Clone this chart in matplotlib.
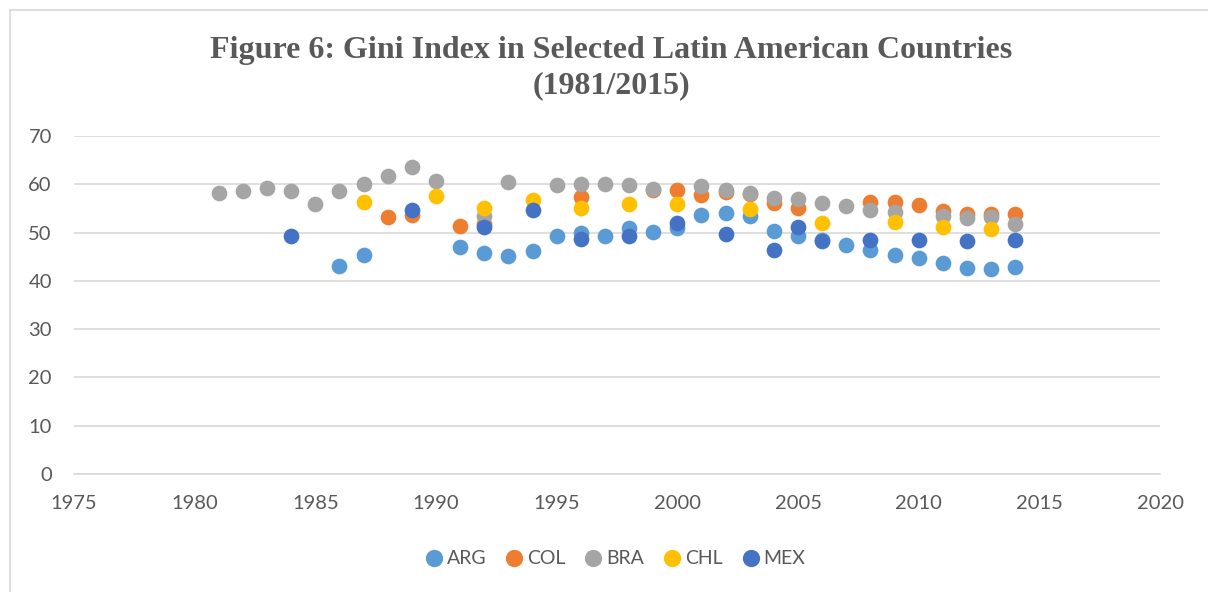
import matplotlib
matplotlib.use("Agg")
import matplotlib.pyplot as plt
from matplotlib.lines import Line2D

# ---- data ----
arg_years = [1986, 1987, 1991, 1992, 1993, 1994, 1995, 1996, 1997, 1998, 1999, 2000,
             2001, 2002, 2003, 2004, 2005, 2006, 2007, 2008, 2009, 2010, 2011, 2012, 2013, 2014]
arg_vals = [43.0, 45.4, 47.0, 45.7, 45.1, 46.1, 49.2, 49.9, 49.3, 51.0, 50.1, 51.0,
            53.6, 54.1, 53.5, 50.3, 49.3, 48.5, 47.5, 46.4, 45.3, 44.7, 43.8, 42.6, 42.4, 42.9]

col_years = [1988, 1989, 1991, 1992, 1996, 1999, 2000, 2001, 2002, 2003, 2004, 2005,
             2008, 2009, 2010, 2011, 2012, 2013, 2014]
col_vals = [53.3, 53.7, 51.4, 51.8, 57.3, 58.8, 58.9, 57.8, 58.5, 58.0, 56.2, 55.0,
            56.4, 56.3, 55.7, 54.5, 53.9, 53.9, 53.8]

bra_years = [1981, 1982, 1983, 1984, 1985, 1986, 1987, 1988, 1989, 1990, 1992, 1993,
             1995, 1996, 1997, 1998, 1999, 2001, 2002, 2003, 2004, 2005, 2006, 2007,
             2008, 2009, 2011, 2012, 2013, 2014]
bra_vals = [58.1, 58.6, 59.2, 58.6, 55.9, 58.7, 60.0, 61.8, 63.6, 60.7, 53.5, 60.4,
            59.9, 60.1, 60.1, 59.9, 59.1, 59.6, 58.8, 58.2, 57.1, 56.9, 56.2, 55.4,
            54.6, 54.3, 53.5, 53.0, 53.2, 51.7]

chl_years = [1987, 1990, 1992, 1994, 1996, 1998, 2000, 2003, 2006, 2009, 2011, 2013]
chl_vals = [56.4, 57.5, 55.0, 56.8, 55.0, 55.9, 55.9, 54.8, 52.0, 52.2, 51.1, 50.7]

mex_years = [1984, 1989, 1992, 1994, 1996, 1998, 2000, 2002, 2004, 2005, 2006, 2008,
             2010, 2012, 2014]
mex_vals = [49.2, 54.6, 51.1, 54.6, 48.6, 49.2, 52.0, 49.8, 46.3, 51.2, 48.3, 48.5,
            48.4, 48.3, 48.4]

series = [
    ("ARG", arg_years, arg_vals, "#5B9BD5"),
    ("COL", col_years, col_vals, "#ED7D31"),
    ("BRA", bra_years, bra_vals, "#A5A5A5"),
    ("CHL", chl_years, chl_vals, "#FFC000"),
    ("MEX", mex_years, mex_vals, "#4472C4"),
]

x_ticks = [1975, 1980, 1985, 1990, 1995, 2000, 2005, 2010, 2015, 2020]
y_ticks = [0, 10, 20, 30, 40, 50, 60, 70]
title = "Figure 6: Gini Index in Selected Latin American Countries\n(1981/2015)"

# ---- figure ----
W, H = 1208, 592
fig = plt.figure(figsize=(W / 100, H / 100), dpi=100)
# chart-area border (left and top only visible)
fig.lines.append(Line2D([10 / W, 10 / W], [0, 1 - 10 / H], transform=fig.transFigure,
                        color="#d9d9d9", linewidth=1.2))
fig.lines.append(Line2D([10 / W, 1], [1 - 10 / H, 1 - 10 / H], transform=fig.transFigure,
                        color="#d9d9d9", linewidth=1.2))

ax = fig.add_axes([74 / W, 1 - 474 / H, (1160 - 74) / W, (474 - 136) / H])
for name, xs, ys, c in series:
    ax.scatter(xs, ys, s=128, color=c, label=name, linewidths=0, zorder=3)

ax.set_xlim(1975, 2020)
ax.set_ylim(0, 70)
ax.set_xticks(x_ticks)
ax.set_yticks(y_ticks)
ax.grid(axis="y", color="#d9d9d9", linewidth=1.2, zorder=0)
for s in ["top", "right", "left"]:
    ax.spines[s].set_visible(False)
ax.spines["bottom"].set_color("#d9d9d9")
ax.spines["bottom"].set_linewidth(1.2)
ax.tick_params(length=0, labelsize=14.5, labelcolor="#595959")
ax.tick_params(axis="x", pad=15)
ax.tick_params(axis="y", pad=16)
for lab in ax.get_xticklabels() + ax.get_yticklabels():
    lab.set_family("Lato")

fig.text(611 / W, 1 - 68 / H, title, ha="center", va="center",
         fontsize=23, fontweight="bold", family="Liberation Serif",
         color="#595959", linespacing=1.3)

leg = fig.legend(loc="center", bbox_to_anchor=(615 / W, 1 - 558 / H), ncol=5,
                 frameon=False, handlelength=0.95, handletextpad=0.2,
                 columnspacing=0.95, markerscale=1.1,
                 prop={"family": "Lato", "size": 14})
for t in leg.get_texts():
    t.set_color("#595959")

fig.savefig("out.png", dpi=100)
